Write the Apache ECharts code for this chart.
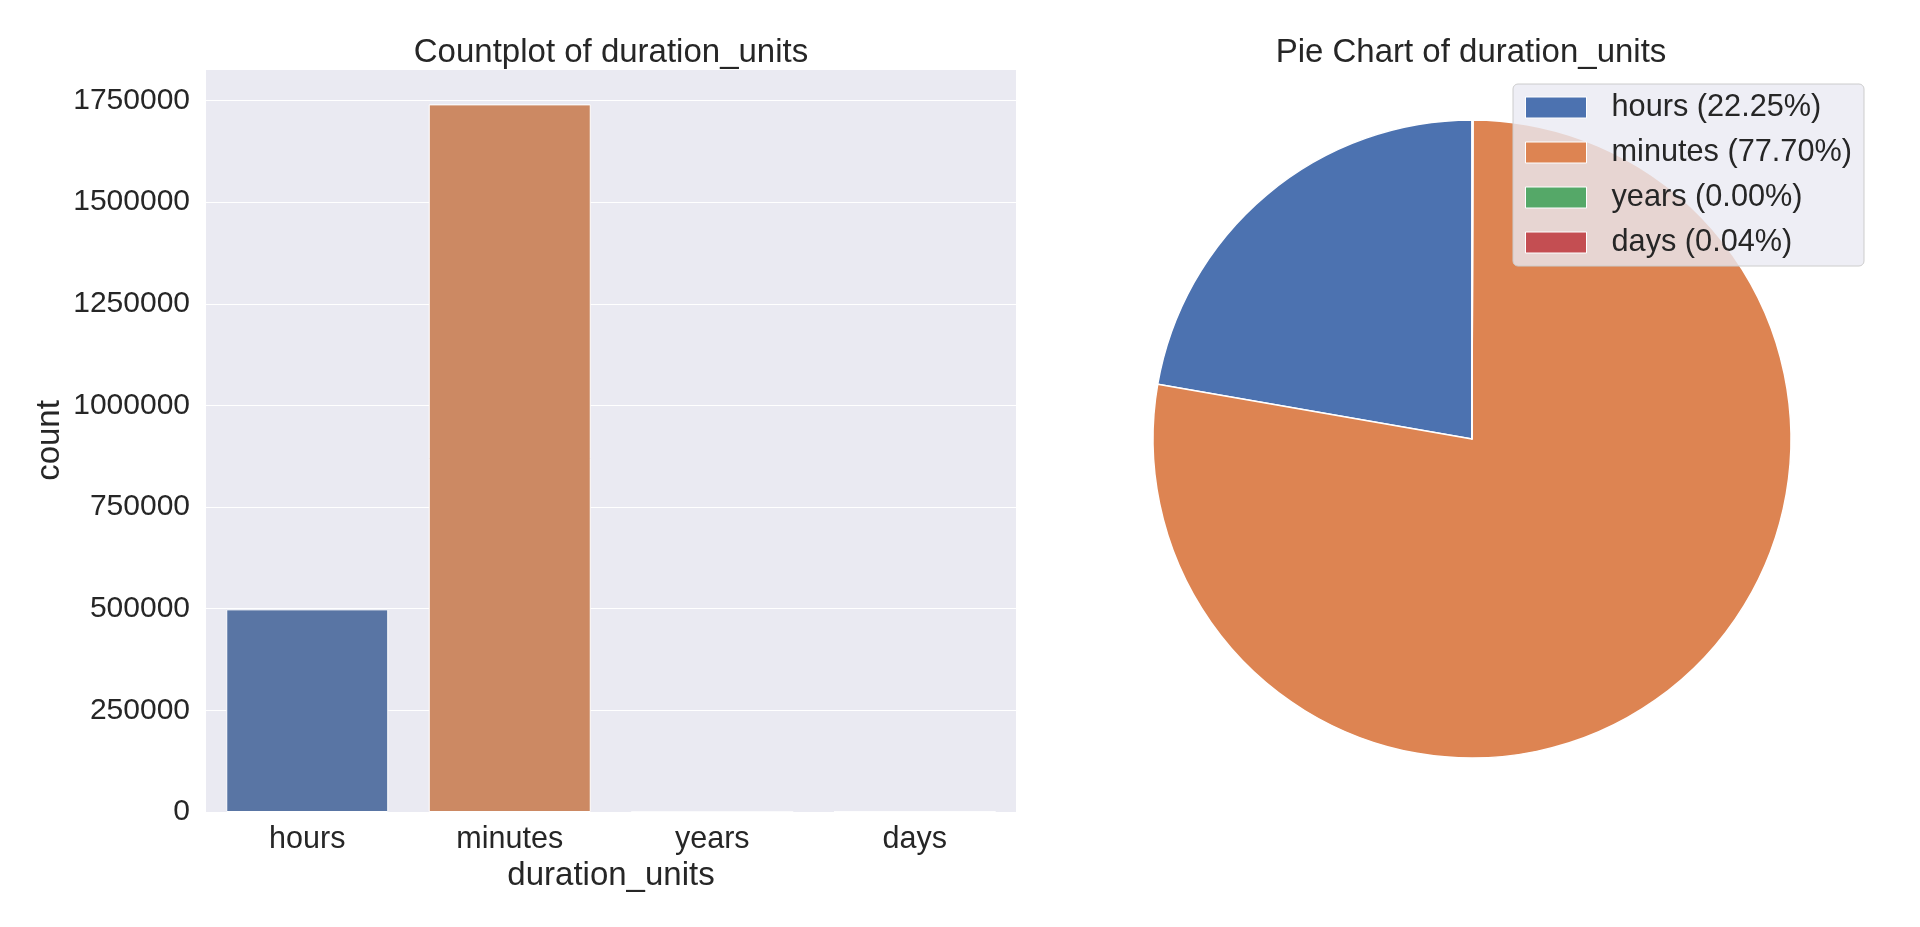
<!DOCTYPE html>
<html>
<head>
    <meta charset="UTF-8">
    <title>duration_units</title>
    <style>
        html, body {
            margin: 0;
            padding: 0;
            background: #ffffff;
        }
        #chart {
            width: 1920px;
            height: 927px;
        }
    </style>
    <script type="text/javascript" src="https://cdn.jsdelivr.net/npm/echarts@6/dist/echarts.min.js"></script>
</head>
<body>
<div id="chart"></div>
<script>
    // data
    const categories = ['hours', 'minutes', 'years', 'days'];
    const counts = [498450, 1740500, 40, 950];
    const yTicks = [0, 250000, 500000, 750000, 1000000, 1250000, 1500000, 1750000];

    const barColors = ['#5975a4', '#cc8963', '#5f9e6e', '#b55d60'];
    const pieColors = ['#4c72b0', '#dd8452', '#55a868', '#c44e52'];

    const FONT = 'Liberation Sans, Arial, sans-serif';
    const TEXT = '#262626';

    let total = counts.reduce((a, b) => a + b, 0);
    let legendNames = categories.map((c, i) => c + ' (' + (counts[i] / total * 100).toFixed(2) + '%)');
    let yMax = Math.max(...counts) * 1.05;

    let chartContainer = document.getElementById('chart');
    let myChart = echarts.init(chartContainer, null, {renderer: 'canvas'});

    let option = {
        animation: false,
        textStyle: {fontFamily: FONT, color: TEXT},
        title: [
            {
                text: 'Countplot of duration_units',
                left: 606,
                top: 31,
                textAlign: 'center',
                textStyle: {fontFamily: FONT, fontSize: 33, fontWeight: 'normal', color: TEXT}
            },
            {
                text: 'Pie Chart of duration_units',
                left: 1466,
                top: 31,
                textAlign: 'center',
                textStyle: {fontFamily: FONT, fontSize: 33, fontWeight: 'normal', color: TEXT}
            }
        ],
        grid: {
            left: 206,
            right: 904,
            top: 69,
            bottom: 115,
            show: true,
            backgroundColor: '#eaeaf2',
            borderWidth: 0
        },
        xAxis: {
            type: 'category',
            data: categories,
            name: 'duration_units',
            nameLocation: 'middle',
            nameGap: 45,
            nameTextStyle: {fontFamily: FONT, fontSize: 33, color: TEXT},
            axisLine: {show: false},
            axisTick: {show: false},
            axisLabel: {fontFamily: FONT, fontSize: 30.5, color: TEXT, margin: 12},
            splitLine: {show: false}
        },
        yAxis: {
            type: 'value',
            min: 0,
            max: yMax,
            interval: 250000,
            name: 'count',
            nameLocation: 'middle',
            nameGap: 140,
            nameTextStyle: {fontFamily: FONT, fontSize: 33, color: TEXT},
            axisLine: {show: false},
            axisTick: {show: false},
            axisLabel: {
                fontFamily: FONT, fontSize: 30, color: TEXT, margin: 16,
                showMaxLabel: false,
                formatter: v => yTicks.indexOf(v) >= 0 ? String(v) : ''
            },
            splitLine: {lineStyle: {color: '#ffffff', width: 1.2}}
        },
        legend: {
            data: legendNames,
            orient: 'vertical',
            left: 1513,
            top: 84,
            itemWidth: 61,
            itemHeight: 21,
            itemGap: 14,
            padding: [8, 12, 8, 12],
            backgroundColor: 'rgba(234,234,242,0.8)',
            borderColor: '#cccccc',
            borderWidth: 1,
            borderRadius: 5,
            icon: 'rect',
            itemStyle: {borderColor: '#ffffff', borderWidth: 1},
            textStyle: {fontFamily: FONT, fontSize: 30.7, color: TEXT, lineHeight: 30, padding: [0, 0, 0, 20]}
        },
        series: [
            {
                type: 'bar',
                barWidth: '80%',
                data: counts.map((v, i) => ({
                    value: v,
                    itemStyle: {color: barColors[i], borderColor: '#ffffff', borderWidth: 1}
                }))
            },
            {
                type: 'pie',
                center: [1472, 439],
                radius: 319,
                startAngle: 90,
                clockwise: false,
                minAngle: 0,
                label: {show: false},
                labelLine: {show: false},
                emphasis: {disabled: true},
                itemStyle: {borderColor: '#ffffff', borderWidth: 1.5},
                data: legendNames.map((n, i) => ({
                    name: n,
                    value: counts[i],
                    itemStyle: {color: pieColors[i]}
                }))
            }
        ]
    };
    myChart.setOption(option);
</script>
</body>
</html>
